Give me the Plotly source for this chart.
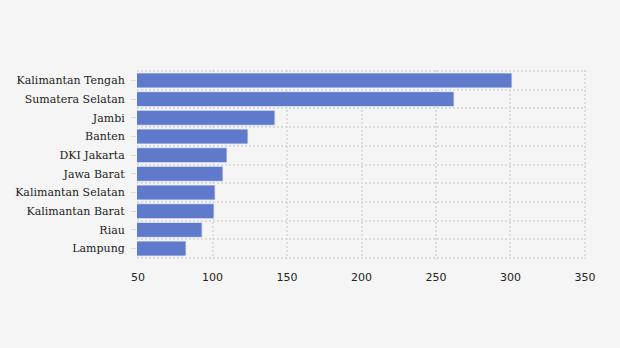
import plotly.graph_objects as go

provinces = [
    "Kalimantan Tengah", "Sumatera Selatan", "Jambi", "Banten", "DKI Jakarta",
    "Jawa Barat", "Kalimantan Selatan", "Kalimantan Barat", "Riau", "Lampung",
]
values = [301.0, 262.1, 141.9, 123.8, 109.7, 107.0, 101.7, 101.0, 93.0, 82.2]
x_ticks = [50, 100, 150, 200, 250, 300, 350]

positions = list(range(len(provinces)))
boundaries = [p - 0.5 for p in positions] + [positions[-1] + 0.5]

grid_color = "#dcdcdc"
grid_dash = "2px,2px"

fig = go.Figure(
    go.Bar(
        x=values,
        y=positions,
        orientation="h",
        width=0.8,
        marker=dict(color="#5f7acb", line=dict(color="rgba(230,235,250,0.8)", width=1)),
        hoverinfo="x+text",
        text=provinces,
        textposition="none",
    )
)

fig.update_layout(
    width=620,
    height=348,
    margin=dict(l=137, r=34, t=70, b=89),
    paper_bgcolor="#f5f5f5",
    plot_bgcolor="#f5f5f5",
    showlegend=False,
)

# ranges padded a hair so the outermost dotted gridlines stay visible
fig.update_xaxes(
    range=[49.3, 350.7],
    tickvals=x_ticks,
    showgrid=True,
    gridcolor=grid_color,
    griddash=grid_dash,
    gridwidth=2,
    zeroline=False,
    showline=False,
    ticks="outside",
    ticklen=8,
    tickcolor="rgba(0,0,0,0)",
    tickfont=dict(family="DejaVu Sans", size=11, color="#222222"),
)

fig.update_yaxes(
    range=[positions[-1] + 0.56, -0.56],
    tickvals=positions,
    ticktext=provinces,
    showgrid=False,
    zeroline=False,
    showline=False,
    ticks="outside",
    ticklen=5,
    tickcolor="#dcdcdc",
    ticklabelstandoff=4,
    tickfont=dict(family="DejaVu Serif", size=11, color="#222222"),
    minor=dict(
        tickvals=boundaries,
        showgrid=True,
        gridcolor=grid_color,
        griddash=grid_dash,
        gridwidth=2,
        ticks="",
    ),
)

fig.write_html("out.html")
